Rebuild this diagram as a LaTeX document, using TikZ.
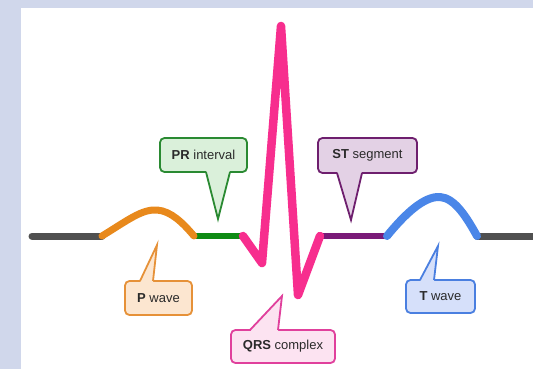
\documentclass[tikz,border=0pt]{standalone}
\usepackage{fontspec}
\setmainfont{Liberation Sans}
\usetikzlibrary{calc}
\definecolor{bgout}{HTML}{D0D7EB}
\definecolor{baseln}{HTML}{505050}
\definecolor{pcol}{HTML}{E8891C}
\definecolor{prcol}{HTML}{0E8A14}
\definecolor{qrscol}{HTML}{F72E8E}
\definecolor{stcol}{HTML}{7A1A78}
\definecolor{tcol}{HTML}{4A86E8}
\definecolor{prfill}{HTML}{DAF0DA}
\definecolor{prline}{HTML}{2A8A32}
\definecolor{stfill}{HTML}{E3D1E5}
\definecolor{stline}{HTML}{6E1F6E}
\definecolor{pfill}{HTML}{FCE6D0}
\definecolor{pline}{HTML}{E69138}
\definecolor{qfill}{HTML}{FCE3F1}
\definecolor{qline}{HTML}{E0409C}
\definecolor{tfill}{HTML}{D6E0FA}
\definecolor{tline}{HTML}{4A7FE0}
\definecolor{txt}{HTML}{2A2A2A}
\newcommand\calloutptr[6]{%
  \fill[#1] ($#3+#6$) -- ($#3!0.06!#5$) -- #5 -- ($#4!0.06!#5$) -- ($#4+#6$) -- cycle;
  \draw[#2, line width=1.8pt, line join=miter, miter limit=20] #3 -- #5 -- #4;
}
\begin{document}
\begin{tikzpicture}[x=1pt,y=-1pt,
  callout/.style={draw, rounded corners=4.5pt, line width=1.8pt, inner sep=0pt,
    font=\fontsize{13}{15}\selectfont, text=txt},
  ecg/.style={line cap=round, line join=round}]
\useasboundingbox (0,0) rectangle (533,369);
\fill[bgout] (0,0) rectangle (533,369);
\fill[white] (21,8) rectangle (533,369);

\begin{scope}
\clip (21,8) rectangle (533,369);
% ECG trace
\coordinate (a0) at (32,236);
\coordinate (a1) at (102,236);
\coordinate (a2) at (194,236);
\coordinate (a3) at (243,236);
\coordinate (q) at (262,263);
\coordinate (r) at (281,26);
\coordinate (s) at (298,295);
\coordinate (a4) at (320,236);
\coordinate (a5) at (387,236);
\coordinate (a6) at (477,236);
\coordinate (a7) at (545,236);
\draw[ecg, baseln, line width=7pt] (a0) -- (a1);
\draw[ecg, baseln, line width=7pt] (a6) -- (a7);
\draw[ecg, prcol, line width=6pt] (a2) -- (a3);
\draw[ecg, stcol, line width=6pt] (a4) -- (a5);
\draw[ecg, pcol, line width=7pt] (a1) .. controls (128,220) and (142,209) .. (157,210)
   .. controls (171,211) and (183,223) .. (a2);
\draw[ecg, tcol, line width=8pt] (a5) .. controls (405,214) and (424,196) .. (440,197)
   .. controls (455,198) and (467,218) .. (a6);
\draw[ecg, qrscol, line width=8.5pt] (a3) -- (q) -- (r) -- (s) -- (a4);
\end{scope}

% Callouts
\node[callout, fill=prfill, draw=prline, minimum width=87pt, minimum height=34pt] (pr) at (203.5,155) {\textbf{PR} interval};
\coordinate (prtip) at (218,219);
\calloutptr{prfill}{prline}{(206,172)}{(230,172)}{(prtip)}{(0,-3)}

\node[callout, fill=stfill, draw=stline, minimum width=99pt, minimum height=35pt] (st) at (367.5,155.5) {\textbf{ST} segment};
\coordinate (sttip) at (351,220);
\calloutptr{stfill}{stline}{(337,173)}{(362,173)}{(sttip)}{(0,-3)}

\node[callout, fill=pfill, draw=pline, minimum width=67pt, minimum height=34pt] (pw) at (158.5,298) {\textbf{P} wave};
\coordinate (ptip) at (157,245);
\calloutptr{pfill}{pline}{(140,281)}{(153,281)}{(ptip)}{(0,3)}

\node[callout, fill=qfill, draw=qline, minimum width=104pt, minimum height=33pt] (qrs) at (283,346.5) {\textbf{QRS} complex};
\coordinate (qtip) at (282,296);
\calloutptr{qfill}{qline}{(250,330)}{(278,330)}{(qtip)}{(0,3)}

\node[callout, fill=tfill, draw=tline, minimum width=69pt, minimum height=33pt] (tw) at (440.5,296.5) {\textbf{T} wave};
\coordinate (ttip) at (438,246);
\calloutptr{tfill}{tline}{(420,280)}{(434,280)}{(ttip)}{(0,3)}
\end{tikzpicture}
\end{document}
